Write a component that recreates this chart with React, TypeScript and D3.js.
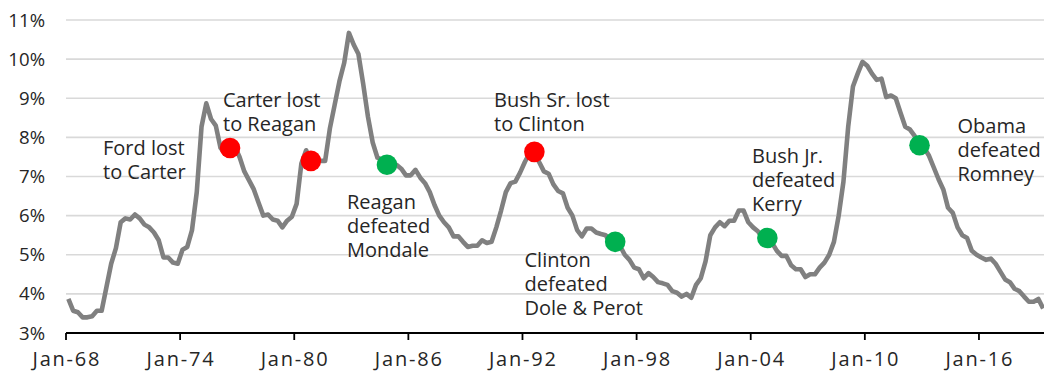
import React from "react";
import * as d3 from "d3";

// US civilian unemployment rate, quarterly averages (%), 1968 Q1 onward
const firstYear = 1968;
const unemploymentRate: number[] = [
  3.87, 3.57, 3.53, 3.4, // 1968
  3.4, 3.43, 3.57, 3.57, // 1969
  4.17, 4.77, 5.17, 5.83, // 1970
  5.93, 5.9, 6.03, 5.93, // 1971
  5.77, 5.7, 5.57, 5.37, // 1972
  4.93, 4.93, 4.8, 4.77, // 1973
  5.13, 5.2, 5.63, 6.6, // 1974
  8.27, 8.87, 8.47, 8.3, // 1975
  7.73, 7.57, 7.73, 7.77, // 1976
  7.5, 7.13, 6.9, 6.67, // 1977
  6.33, 6.0, 6.03, 5.9, // 1978
  5.87, 5.7, 5.87, 5.97, // 1979
  6.3, 7.33, 7.67, 7.4, // 1980
  7.43, 7.4, 7.4, 8.23, // 1981
  8.83, 9.43, 9.9, 10.67, // 1982
  10.37, 10.13, 9.37, 8.53, // 1983
  7.87, 7.48, 7.43, 7.3, // 1984
  7.23, 7.3, 7.2, 7.03, // 1985
  7.03, 7.17, 6.97, 6.83, // 1986
  6.6, 6.27, 6.0, 5.83, // 1987
  5.7, 5.47, 5.47, 5.33, // 1988
  5.2, 5.23, 5.23, 5.37, // 1989
  5.3, 5.33, 5.7, 6.13, // 1990
  6.6, 6.83, 6.87, 7.1, // 1991
  7.37, 7.6, 7.63, 7.37, // 1992
  7.13, 7.07, 6.8, 6.63, // 1993
  6.57, 6.2, 6.0, 5.63, // 1994
  5.47, 5.67, 5.67, 5.57, // 1995
  5.53, 5.5, 5.27, 5.33, // 1996
  5.23, 5.0, 4.87, 4.67, // 1997
  4.63, 4.4, 4.53, 4.43, // 1998
  4.3, 4.27, 4.23, 4.07, // 1999
  4.03, 3.93, 4.0, 3.9, // 2000
  4.23, 4.4, 4.83, 5.5, // 2001
  5.7, 5.83, 5.73, 5.87, // 2002
  5.87, 6.13, 6.13, 5.83, // 2003
  5.7, 5.6, 5.43, 5.43, // 2004
  5.3, 5.1, 4.97, 4.97, // 2005
  4.73, 4.63, 4.63, 4.43, // 2006
  4.5, 4.5, 4.67, 4.8, // 2007
  5.0, 5.33, 6.0, 6.87, // 2008
  8.27, 9.3, 9.63, 9.93, // 2009
  9.83, 9.63, 9.47, 9.5, // 2010
  9.03, 9.07, 9.0, 8.63, // 2011
  8.27, 8.2, 8.03, 7.8, // 2012
  7.73, 7.53, 7.23, 6.93, // 2013
  6.67, 6.2, 6.07, 5.7, // 2014
  5.5, 5.43, 5.1, 5.0, // 2015
  4.93, 4.87, 4.9, 4.77, // 2016
  4.57, 4.37, 4.3, 4.13, // 2017
  4.07, 3.93, 3.8, 3.8, // 2018
  3.87, 3.63, // 2019
];

const tickYears = [1968, 1974, 1980, 1986, 1992, 1998, 2004, 2010, 2016];
const tickLabels = ["Jan-68", "Jan-74", "Jan-80", "Jan-86", "Jan-92", "Jan-98", "Jan-04", "Jan-10", "Jan-16"];
const percentTicks = [3, 4, 5, 6, 7, 8, 9, 10, 11];

// Presidential elections: quarter on the chart, whether the incumbent party kept the White House
const electionYears = [1976, 1980, 1984, 1992, 1996, 2004, 2012];
const electionQuarters = [3, 4, 4, 3, 4, 4, 4];
const incumbentWon = [false, false, true, false, true, true, true];
const electionNotes: string[][] = [
  ["Ford lost", "to Carter"],
  ["Carter lost", "to Reagan"],
  ["Reagan", "defeated", "Mondale"],
  ["Bush Sr. lost", "to Clinton"],
  ["Clinton", "defeated", "Dole & Perot"],
  ["Bush Jr.", "defeated", "Kerry"],
  ["Obama", "defeated", "Romney"],
];

// ---- layout ----
const WIDTH = 1044;
const HEIGHT = 371;
const LEFT = 66;
const STEP = 4.755;
const TOP_Y = 20;
const BOTTOM_Y = 333;
const LINE_GAP = 24;
const noteAnchors: [number, number][] = [
  [103, 155],
  [223, 107],
  [347, 208.5],
  [494, 107],
  [524.5, 267],
  [752, 162.5],
  [957.5, 132.5],
];

const FONT = "'Open Sans', 'DejaVu Sans', sans-serif";
const TEXT = "#262626";

export default function App() {
  const n = unemploymentRate.length;
  const idx = d3.range(n);
  const x = d3
    .scaleBand<number>()
    .domain(idx)
    .range([LEFT, LEFT + n * STEP])
    .paddingInner(0)
    .paddingOuter(0);
  const cx = (i: number) => (x(i) as number) + x.bandwidth() / 2;
  const y = d3.scaleLinear().domain([3, 11]).range([BOTTOM_Y, TOP_Y]);

  const line = d3
    .line<number>()
    .x((_, i) => cx(i))
    .y((v) => y(v));

  const tickIndex = (year: number) => (year - firstYear) * 4;
  const axisRight = LEFT + n * STEP;

  return (
    <div style={{ position: "absolute", left: 0, top: 0, background: "#fff" }}>
      <svg width={WIDTH} height={HEIGHT} viewBox={`0 0 ${WIDTH} ${HEIGHT}`} style={{ display: "block" }}>
        <rect x={0} y={0} width={WIDTH} height={HEIGHT} fill="#fff" />
        {/* horizontal gridlines */}
        {percentTicks
          .filter((t) => t > 3)
          .map((t) => (
            <line key={t} x1={LEFT} x2={axisRight} y1={y(t)} y2={y(t)} stroke="#d9d9d9" strokeWidth={1.6} />
          ))}
        {/* y labels */}
        {percentTicks.map((t) => (
          <text
            key={t}
            x={45}
            y={y(t) + 6.6}
            textAnchor="end"
            fontFamily={FONT}
            fontSize={18.6}
            fill={TEXT}
          >
            {t}%
          </text>
        ))}
        {/* x axis */}
        <line x1={LEFT} x2={axisRight} y1={BOTTOM_Y} y2={BOTTOM_Y} stroke="#000" strokeWidth={1.8} />
        {tickYears.map((yr, k) => {
          const tx = x(tickIndex(yr)) as number;
          return (
            <g key={yr}>
              <line x1={tx} x2={tx} y1={BOTTOM_Y} y2={BOTTOM_Y + 7} stroke="#000" strokeWidth={1.8} />
              <text
                x={tx + 0.9}
                y={366}
                textAnchor="middle"
                fontFamily={FONT}
                fontSize={20}
                letterSpacing={1.8}
                fill={TEXT}
              >
                {tickLabels[k]}
              </text>
            </g>
          );
        })}
        {/* unemployment rate */}
        <path
          d={line(unemploymentRate) ?? ""}
          fill="none"
          stroke="#808080"
          strokeWidth={4.6}
          strokeLinejoin="round"
        />
        {/* election markers */}
        {electionYears.map((yr, k) => {
          const i = (yr - firstYear) * 4 + electionQuarters[k] - 1;
          return (
            <circle
              key={yr}
              cx={cx(i)}
              cy={y(unemploymentRate[i])}
              r={10.3}
              fill={incumbentWon[k] ? "#00b050" : "#ff0000"}
            />
          );
        })}
        {/* election notes */}
        {electionNotes.map((lines, k) => (
          <text key={k} fontFamily={FONT} fontSize={20} fill={TEXT}>
            {lines.map((s, j) => (
              <tspan key={j} x={noteAnchors[k][0]} y={noteAnchors[k][1] + j * LINE_GAP}>
                {s}
              </tspan>
            ))}
          </text>
        ))}
      </svg>
    </div>
  );
}
